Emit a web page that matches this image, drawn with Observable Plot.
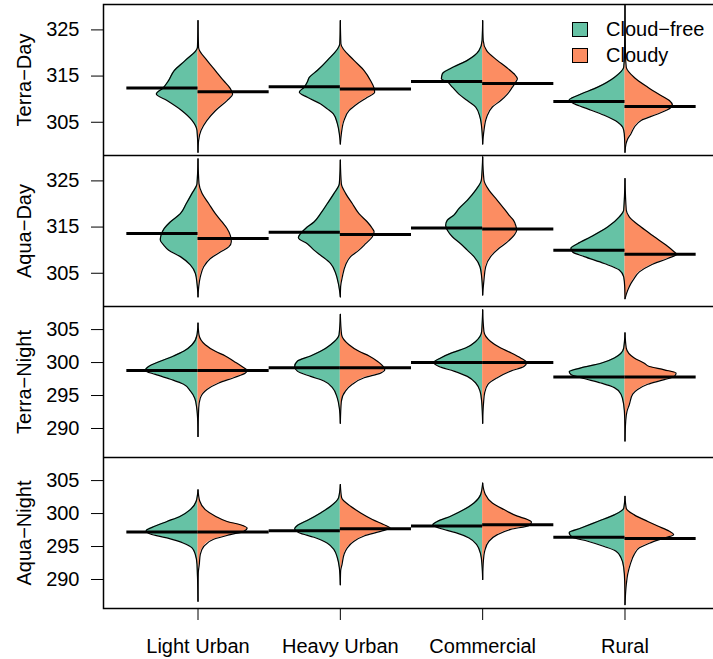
<!DOCTYPE html>
<html>
<head>
<meta charset="utf-8">
<script src="https://cdn.jsdelivr.net/npm/d3@7"></script>
<script src="https://cdn.jsdelivr.net/npm/@observablehq/plot@0.6"></script>
<style>
  html, body { margin: 0; padding: 0; background: white; }
  #wrap { position: relative; width: 713px; height: 659px; overflow: hidden; font-family: "Liberation Sans", Arial, sans-serif; }
  #wrap svg { display: block; }
  #legend { position: absolute; left: 572px; top: 16px; font-size: 20px; color: black; }
  #legend .row { display: flex; align-items: center; height: 26px; }
  #legend .sw { width: 14px; height: 13px; border: 1px solid black; margin-right: 18px; }
</style>
</head>
<body>
<div id="wrap"><div id="legend"></div></div>
<script>
const categories = ["Light Urban", "Heavy Urban", "Commercial", "Rural"];
const panels = ["Terra\u2212Day", "Aqua\u2212Day", "Terra\u2212Night", "Aqua\u2212Night"];
const skies = ["Cloud\u2212free", "Cloudy"];
const skyColors = ["#66C2A5", "#FC8D62"];
const yTicksDay = [305, 315, 325];
const yTicksNight = [290, 295, 300, 305];
const yDomainDay = [297.8, 330.5];
const yDomainNight = [285.6, 308.5];

// medians [panel][category]
const medianCloudFree = [
  [312.4, 312.7, 313.8, 309.5],
  [313.6, 313.9, 314.8, 310.0],
  [298.8, 299.2, 300.0, 297.8],
  [297.2, 297.4, 298.1, 296.4]
];
const medianCloudy = [
  [311.6, 312.2, 313.4, 308.4],
  [312.5, 313.4, 314.6, 309.1],
  [298.8, 299.2, 300.0, 297.8],
  [297.2, 297.7, 298.3, 296.2]
];

// violin half-profiles: per category, list of [temperature, half-width]
const terraDayCloudFree = [
  [[327.0,0],[321.2,.004],[318.4,.089],[316.2,.167],[314.0,.207],[312.4,.246],[311.1,.293],[309.7,.218],[307.5,.113],[305.4,.042],[303.2,.007],[298.5,0]],
  [[327.0,0],[322.0,.004],[318.4,.091],[316.2,.162],[314.7,.218],[313.7,.232],[312.6,.253],[311.5,.288],[310.4,.232],[309.0,.141],[307.9,.091],[306.8,.049],[304.7,.021],[302.5,.007],[300.3,0]],
  [[327.0,0],[322.7,.004],[320.5,.026],[318.4,.108],[317.0,.202],[315.5,.283],[314.4,.29],[313.7,.248],[312.6,.213],[311.1,.167],[309.7,.108],[308.3,.049],[306.1,.019],[303.2,.005],[300.3,0]],
  [[330.3,0],[320.0,.003],[316.9,.009],[314.7,.075],[312.6,.192],[310.8,.333],[309.8,.392],[309.0,.357],[307.9,.262],[306.5,.146],[305.0,.051],[303.9,.016],[302.5,.005],[298.5,0]]
];
const terraDayCloudy = [
  [[327.0,0],[321.2,.004],[318.4,.063],[316.2,.122],[314.0,.18],[312.4,.225],[311.1,.243],[309.7,.204],[307.5,.122],[305.4,.063],[303.2,.021],[301.0,.004],[298.5,0]],
  [[327.0,0],[322.0,.004],[318.4,.096],[316.2,.167],[314.0,.213],[312.4,.237],[311.5,.241],[310.4,.19],[309.0,.12],[307.5,.061],[305.4,.026],[302.5,.007],[300.3,0]],
  [[327.0,0],[322.7,.004],[320.5,.028],[318.4,.103],[317.0,.162],[315.5,.22],[314.4,.244],[313.7,.232],[312.6,.209],[311.1,.174],[309.7,.127],[308.3,.068],[306.1,.028],[303.2,.009],[300.3,0]],
  [[330.3,0],[320.0,.003],[316.9,.009],[314.7,.065],[312.6,.16],[310.8,.253],[309.7,.312],[308.6,.335],[308.1,.319],[306.8,.23],[305.4,.113],[303.9,.065],[302.5,.042],[301.4,.019],[300.3,.007],[298.5,0]]
];
const aquaDayCloudFree = [
  [[329.8,0],[324.4,.007],[322.3,.042],[320.1,.082],[317.9,.124],[316.1,.195],[314.7,.237],[313.2,.26],[312.2,.265],[311.1,.241],[310.0,.206],[308.6,.124],[306.8,.054],[305.0,.019],[302.8,.007],[299.9,0]],
  [[329.5,0],[324.4,.007],[322.3,.044],[320.1,.091],[317.9,.139],[316.1,.185],[314.7,.244],[313.6,.279],[312.7,.295],[311.4,.232],[310.0,.185],[308.9,.139],[307.1,.068],[305.0,.033],[302.8,.014],[299.9,0]],
  [[330.2,0],[325.2,.009],[323.0,.049],[320.8,.108],[319.0,.167],[317.6,.202],[316.5,.248],[315.4,.26],[314.3,.248],[312.9,.213],[311.4,.155],[310.0,.108],[308.6,.061],[306.4,.019],[303.5,.005],[300.3,0]],
  [[325.5,0],[318.7,.009],[317.2,.04],[315.0,.122],[312.9,.239],[311.4,.333],[310.4,.38],[309.6,.368],[308.6,.286],[307.1,.146],[305.7,.04],[304.2,.009],[302.1,.002],[299.5,0]]
];
const aquaDayCloudy = [
  [[329.8,0],[324.4,.007],[322.3,.028],[320.1,.075],[317.9,.122],[316.1,.169],[314.7,.204],[313.2,.227],[311.8,.234],[310.7,.216],[309.6,.157],[308.2,.087],[306.4,.04],[304.2,.016],[302.1,.005],[299.9,0]],
  [[329.5,0],[324.4,.007],[322.3,.037],[320.1,.084],[317.9,.131],[316.1,.19],[314.7,.225],[314.0,.237],[312.9,.225],[311.4,.178],[310.0,.131],[308.6,.072],[306.8,.037],[304.2,.014],[302.1,.002],[299.9,0]],
  [[330.2,0],[325.2,.009],[323.0,.044],[320.8,.103],[319.0,.15],[317.6,.185],[316.5,.216],[315.4,.232],[314.3,.239],[313.2,.22],[311.8,.174],[310.4,.115],[308.6,.056],[306.4,.021],[303.5,.009],[300.3,0]],
  [[325.5,0],[318.7,.009],[317.2,.03],[315.0,.113],[312.9,.206],[311.1,.288],[309.6,.347],[309.1,.364],[308.2,.3],[306.8,.183],[305.3,.101],[303.9,.065],[302.8,.042],[301.3,.019],[299.5,0]]
];
const terraNightCloudFree = [
  [[306.0,0],[304.2,.007],[302.7,.042],[301.7,.101],[301.0,.171],[300.2,.265],[299.4,.347],[298.8,.371],[298.2,.3],[297.4,.183],[296.7,.101],[295.7,.054],[294.6,.023],[293.1,.009],[291.1,.002],[288.8,0]],
  [[307.3,0],[304.2,.009],[302.7,.068],[301.7,.139],[301.0,.209],[300.2,.302],[299.4,.321],[298.7,.302],[297.9,.209],[297.2,.115],[296.2,.056],[294.6,.021],[293.1,.007],[290.8,0]],
  [[308.0,0],[304.7,.007],[303.2,.049],[302.2,.12],[301.5,.213],[300.7,.295],[300.0,.343],[299.4,.307],[298.7,.202],[297.9,.108],[296.9,.049],[295.7,.019],[294.1,.007],[290.8,0]],
  [[304.5,0],[302.2,.009],[300.7,.075],[299.9,.169],[299.2,.309],[298.6,.392],[298.2,.38],[297.7,.309],[296.9,.169],[296.2,.075],[295.2,.028],[293.6,.009],[291.6,.002],[288.1,0]]
];
const terraNightCloudy = [
  [[306.0,0],[304.2,.007],[302.7,.051],[301.7,.122],[301.0,.192],[300.2,.251],[299.4,.309],[298.8,.345],[298.4,.333],[297.7,.251],[296.9,.146],[295.9,.063],[294.6,.016],[293.1,.005],[288.8,0]],
  [[307.3,0],[304.2,.009],[302.7,.061],[301.7,.131],[301.0,.202],[300.2,.26],[299.4,.302],[298.9,.312],[298.4,.283],[297.7,.167],[296.7,.084],[295.7,.037],[294.1,.007],[290.8,0]],
  [[308.0,0],[304.7,.009],[303.2,.056],[302.2,.127],[301.5,.197],[300.7,.267],[300.0,.309],[299.4,.29],[298.7,.197],[297.7,.103],[296.7,.037],[295.4,.014],[294.1,.007],[290.8,0]],
  [[304.5,0],[302.2,.009],[300.7,.065],[299.9,.136],[299.4,.171],[298.9,.276],[298.4,.359],[297.9,.347],[297.4,.276],[296.7,.16],[295.9,.089],[295.2,.054],[293.6,.03],[292.6,.014],[291.1,.005],[288.1,0]]
];
const aquaNightCloudFree = [
  [[303.6,0],[301.9,.012],[300.6,.054],[299.6,.124],[298.8,.218],[298.1,.3],[297.4,.364],[296.9,.335],[296.3,.218],[295.5,.101],[294.8,.042],[293.8,.019],[292.3,.007],[286.7,0]],
  [[304.4,0],[302.4,.012],[301.1,.068],[300.1,.139],[299.1,.22],[298.2,.302],[297.7,.321],[297.1,.29],[296.4,.185],[295.5,.091],[294.5,.044],[293.3,.021],[291.8,.007],[289.2,0]],
  [[304.6,0],[302.9,.014],[301.6,.061],[300.6,.131],[299.6,.225],[298.8,.319],[298.3,.35],[297.8,.307],[297.1,.19],[296.3,.096],[295.3,.042],[293.8,.014],[292.3,.005],[290.0,0]],
  [[302.6,0],[300.8,.009],[299.8,.075],[298.8,.192],[297.8,.309],[297.1,.392],[296.4,.368],[295.8,.262],[295.0,.146],[294.3,.063],[293.3,.028],[291.8,.009],[289.7,.002],[286.2,0]]
];
const aquaNightCloudy = [
  [[303.6,0],[301.9,.012],[300.6,.051],[299.6,.122],[298.8,.204],[298.3,.298],[297.8,.345],[297.3,.321],[296.8,.227],[296.1,.11],[295.0,.04],[293.8,.016],[292.3,.009],[291.0,.002],[286.7,0]],
  [[304.4,0],[302.4,.009],[301.1,.072],[300.1,.143],[299.1,.225],[298.2,.319],[297.8,.35],[297.3,.283],[296.6,.167],[295.8,.096],[294.8,.049],[293.8,.026],[292.3,.012],[291.3,.002],[289.2,0]],
  [[304.6,0],[302.9,.019],[301.6,.068],[300.6,.15],[299.6,.244],[299.1,.314],[298.7,.343],[298.2,.326],[297.6,.197],[296.8,.103],[295.8,.044],[294.3,.014],[292.8,.005],[290.0,0]],
  [[302.6,0],[300.8,.009],[299.8,.065],[298.8,.16],[298.1,.23],[297.3,.312],[296.8,.342],[296.3,.276],[295.5,.171],[294.8,.101],[293.8,.065],[292.3,.037],[290.8,.019],[289.2,.009],[286.2,0]]
];

const profiles = [
  [terraDayCloudFree, terraDayCloudy],
  [aquaDayCloudFree, aquaDayCloudy],
  [terraNightCloudFree, terraNightCloudy],
  [aquaNightCloudFree, aquaNightCloudy]
];

const font = '"Liberation Sans", Arial, Helvetica, sans-serif';
const wrap = document.getElementById("wrap");

function edge(d) { return d.side === 0 ? d.cat - d.w : d.cat + d.w; }

for (let p = 0; p < 4; p++) {
  const rows = [];
  for (let s = 0; s < 2; s++) {
    for (let c = 0; c < 4; c++) {
      const prof = profiles[p][s][c].slice().sort((a, b) => a[0] - b[0]);
      for (const [T, w] of prof) rows.push({cat: c + 1, side: s, sky: skies[s], key: c + "-" + s, T, w});
    }
  }
  const meds = [];
  for (let c = 0; c < 4; c++) {
    meds.push({cat: c + 1, side: 0, T: medianCloudFree[p][c]});
    meds.push({cat: c + 1, side: 1, T: medianCloudy[p][c]});
  }
  const isDay = p < 2;
  const isFirst = p === 0, isLast = p === 3;
  const plotH = 151;
  const marginTop = isFirst ? 4 : 0;
  const marginBottom = isLast ? 52 : 0;
  const chart = Plot.plot({
    width: 713,
    height: plotH + marginTop + marginBottom,
    marginLeft: 103,
    marginRight: -6,
    marginTop,
    marginBottom,
    style: {fontFamily: font, fontSize: "20px", background: "white", overflow: "hidden"},
    x: {domain: [0.336, 4.664], axis: null},
    y: {domain: isDay ? yDomainDay : yDomainNight, axis: null},
    color: {domain: skies, range: skyColors},
    marks: [
      Plot.areaX(rows, {y: "T", x1: "cat", x2: edge, z: "key", fill: "sky", curve: "monotone-y"}),
      Plot.line(rows, {x: edge, y: "T", z: "key", stroke: "black", strokeWidth: 1.2, curve: "monotone-y"}),
      Plot.ruleY(meds, {y: "T", x1: d => d.side === 0 ? d.cat - 0.5 : d.cat, x2: d => d.side === 0 ? d.cat : d.cat + 0.5, stroke: "black", strokeWidth: 3}),
      Plot.frame({stroke: "black", strokeWidth: 1.5}),
      Plot.axisY(isDay ? yTicksDay : yTicksNight, {anchor: "left", tickSize: 12, tickPadding: 12, tickFormat: d => String(d), label: null, fontSize: 20}),
      Plot.text([panels[p]], {frameAnchor: "left", text: d => d, rotate: -90, dx: -73, textAnchor: "middle", lineAnchor: "bottom", fontSize: 20}),
      ...(isLast ? [Plot.axisX([1, 2, 3, 4], {anchor: "bottom", tickSize: 12, tickPadding: 18, tickFormat: i => categories[i - 1], label: null, fontSize: 20})] : [])
    ]
  });
  wrap.appendChild(chart);
}

const legend = document.getElementById("legend");
skies.forEach((s, i) => {
  const row = document.createElement("div");
  row.className = "row";
  const sw = document.createElement("div");
  sw.className = "sw";
  sw.style.background = skyColors[i];
  const t = document.createElement("span");
  t.textContent = s;
  row.appendChild(sw);
  row.appendChild(t);
  legend.appendChild(row);
});
wrap.appendChild(legend);
</script>
</body>
</html>
